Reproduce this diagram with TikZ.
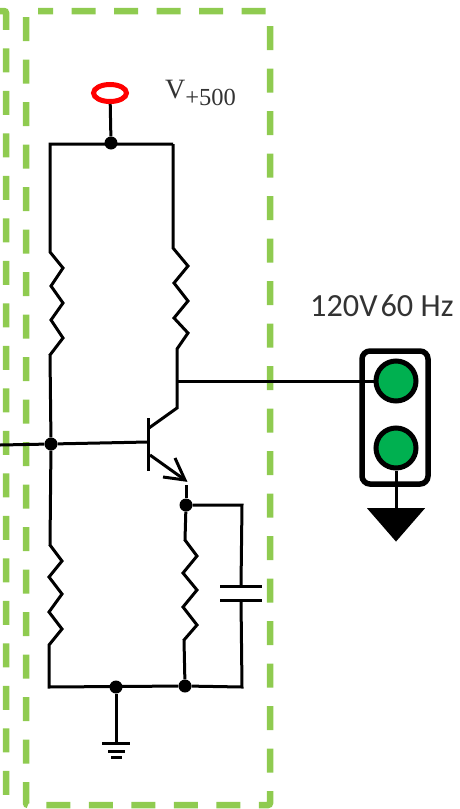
\documentclass[tikz,border=0pt]{standalone}
\usepackage{fontspec}
\setmainfont{Carlito}
\newfontfamily\mathlikefont{Liberation Serif}
\usetikzlibrary{shapes.geometric,arrows.meta}
\definecolor{boxgreen}{HTML}{8FCB50}
\definecolor{lampgreen}{HTML}{00B050}
\tikzset{
  wire/.style={line width=3pt, black, line join=miter},
  boundary/.style={line width=6.5pt, boxgreen, dash pattern=on 24pt off 18.5pt, rounded corners=2pt},
  junction/.style={circle, fill=black, inner sep=0pt, minimum size=13pt},
  terminal/.style={ellipse, draw=red, line width=5pt, fill=white, inner sep=0pt, minimum width=33pt, minimum height=17pt},
  lamp/.style={circle, draw=black, line width=5pt, fill=lampgreen, inner sep=0pt, minimum size=40pt},
  lampbox/.style={draw=black, line width=5.5pt, rounded corners=8pt},
}
\begin{document}
\begin{tikzpicture}[x=1pt, y=-1pt]
  \useasboundingbox (0,0) rectangle (459,809);
  \draw[boundary] (0,11) -- (6,11) -- (6,809);
  \draw[boundary] (26,17) -- (26,805) -- (270,805) -- (270,11) -- (38,11);

  \node[terminal] (vplus) at (110,93) {};
  \node[junction] (top) at (111,143) {};
  \coordinate (topleft) at (50,144);
  \coordinate (topright) at (173,144);
  \node[junction] (base) at (51,444) {};
  \coordinate (inleft) at (0,445);
  \coordinate (botleft) at (49,687);
  \node[junction] (gnd) at (116,687) {};
  \node[junction] (botright) at (185,686) {};
  \coordinate (botcap) at (242,687);
  \node[junction] (emit) at (186,505) {};
  \coordinate (topcap) at (242,505);
  \coordinate (collector) at (177,408);
  \coordinate (output) at (177,381);

  \draw[wire] (vplus) -- (top);
  \draw[wire] (topright) -- (topleft) -- (50,252)
    -- (63,268) -- (51,286) -- (63,303) -- (51,320) -- (63,338) -- (50,355) -- (base);
  \draw[wire] (topright) -- (173,248)
    -- (188,266) -- (174,283) -- (188,301) -- (174,318) -- (188,333) -- (177,349) -- (collector) -- (149,428);
  \draw[wire] (base) -- (50,545)
    -- (62,561) -- (49,577) -- (62,594) -- (49,612) -- (62,629) -- (49,645) -- (botleft) -- (botright);
  \draw[wire] (emit) -- (185,540)
    -- (197,556) -- (183,573) -- (197,590) -- (183,607) -- (197,625) -- (184,640) -- (botright);
  \draw[wire] (inleft) -- (base) -- (148,442);
  \draw[wire] (148,418) -- (148,471);
  \draw[wire] (150,455) -- (185,480);
  \draw[wire] (175,458) -- (185,480) -- (163,477);
  \draw[wire] (186,485) -- (emit);

  \coordinate (platetop) at (241,586);
  \coordinate (platebot) at (241,600);
  \draw[wire] (emit) -- (topcap) -- (platetop);
  \draw[wire] (platebot) -- (botcap) -- (botright);
  \draw[wire] (220,586) -- (262,586);
  \draw[wire] (220,600) -- (262,600);

  \coordinate (earth) at (116,743);
  \draw[wire] (gnd) -- (earth);
  \draw[wire] (102,743) -- (130,743);
  \draw[wire] (108,751) -- (125,751);
  \draw[wire] (111,757) -- (122,757);

  \draw[lampbox] (362,351) rectangle (428,484);
  \node[lamp] (lampa) at (396,381) {};
  \node[lamp] (lampb) at (396,448) {};
  \node[isosceles triangle, shape border rotate=-90, isosceles triangle apex angle=82, fill=black, inner sep=0pt, minimum height=33pt, minimum width=58pt, anchor=north] (sink) at (396,508) {};
  \draw[wire] (output) -- (lampa);
  \draw[wire] (lampb) -- (sink.north);

  \node[anchor=base west, inner sep=0pt] (vlabel) at (165,98)
    {\mathlikefont\fontsize{28}{28}\selectfont\color{black!80}V\raisebox{-7pt}{\fontsize{24.5}{24.5}\selectfont +500}};
  \node[anchor=base west, inner sep=0pt] (mains) at (310,316)
    {\fontsize{32.3}{33}\selectfont\color{black!80}120V\hspace{3pt}60 Hz};
\end{tikzpicture}
\end{document}
